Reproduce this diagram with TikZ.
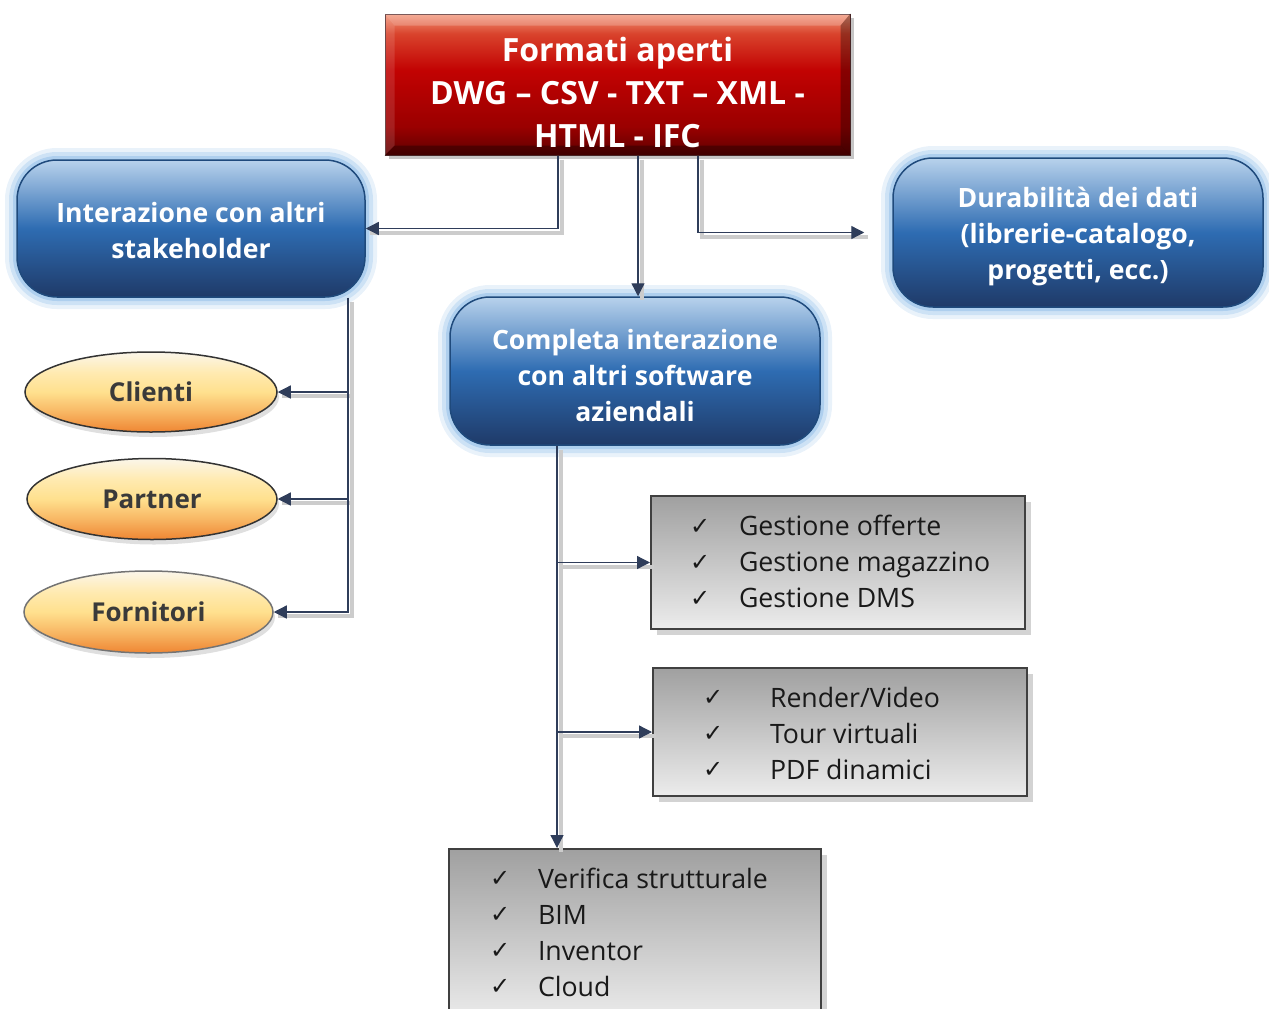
\documentclass[tikz,border=0pt]{standalone}
\usepackage{fontspec}
\setmainfont{Open Sans}
\newfontfamily\dejavu{DejaVu Sans}
\usetikzlibrary{arrows.meta,shadows,shapes.geometric}
\definecolor{blueD}{HTML}{1F3A68}
\definecolor{blueM}{HTML}{2E6CB2}
\definecolor{blueL}{HTML}{B8D2EC}
\definecolor{blueB}{HTML}{1F4A7C}
\definecolor{glowc}{HTML}{8FBDE8}
\definecolor{redA}{HTML}{5E0000}
\definecolor{redB}{HTML}{9A0000}
\definecolor{redC}{HTML}{C20202}
\definecolor{redD}{HTML}{D9432C}
\definecolor{redE}{HTML}{F2987C}
\definecolor{redB2}{HTML}{5A3030}
\definecolor{orA}{HTML}{EF8633}
\definecolor{orB}{HTML}{F8B865}
\definecolor{orC}{HTML}{FFE08E}
\definecolor{orD}{HTML}{FFEAB0}
\definecolor{orE}{HTML}{FBF6EA}
\definecolor{grA}{HTML}{ECECEC}
\definecolor{grB}{HTML}{A0A0A0}
\definecolor{connc}{HTML}{2F3D5A}
\definecolor{elltext}{HTML}{3A3A3A}
\pgfdeclareverticalshading{bluesh}{100bp}{color(0bp)=(blueD); color(25bp)=(blueD); color(50bp)=(blueM); color(75bp)=(blueL); color(100bp)=(blueL)}
\pgfdeclareverticalshading{redsh}{100bp}{color(0bp)=(redA); color(25bp)=(redA); color(35bp)=(redB); color(55bp)=(redC); color(68bp)=(redD); color(75bp)=(redE); color(100bp)=(redE)}
\pgfdeclareverticalshading{orsh}{100bp}{color(0bp)=(orA); color(25bp)=(orA); color(38bp)=(orB); color(50bp)=(orC); color(62bp)=(orD); color(75bp)=(orE); color(100bp)=(orE)}
\pgfdeclareverticalshading{grsh}{100bp}{color(0bp)=(grA); color(25bp)=(grA); color(75bp)=(grB); color(100bp)=(grB)}
\newcommand{\ck}{\raisebox{1.5pt}{\dejavu\fontsize{24}{24}\selectfont ✓}}
\newcommand{\glist}[5]{\raisebox{0pt}[\dimexpr\height+#5\relax]{\makebox[#1][l]{\hspace*{#2}\begin{tabular}{@{}p{#3}@{}l@{}}#4\end{tabular}}}}
\begin{document}
\begin{tikzpicture}[x=1pt,y=-1pt,
  redbox/.style={rectangle, draw=redB2, line width=1pt, shading=redsh,
    minimum width=465pt, minimum height=141pt, inner sep=0pt,
    drop shadow={shadow xshift=4pt, shadow yshift=-4pt, opacity=0.45}},
  redtxt/.style={text=white, align=center, font=\fontsize{32}{43}\selectfont\bfseries},
  bluebox/.style={rectangle, rounded corners=40pt, draw=blueB, line width=1.5pt, shading=bluesh,
    inner sep=0pt,
    preaction={draw=glowc, line width=24pt, opacity=0.2},
    preaction={draw=glowc, line width=16pt, opacity=0.3},
    preaction={draw=glowc, line width=8pt, opacity=0.5}},
  bluetxt/.style={text=white, align=center, font=\fontsize{26.6}{36}\selectfont\bfseries},
  ellbox/.style={ellipse, draw=black!80, line width=1.5pt, shading=orsh, inner sep=0pt,
    text=elltext, font=\fontsize{26}{30}\selectfont\bfseries,
    drop shadow={shadow xshift=2pt, shadow yshift=-5pt, opacity=0.25}},
  greybox/.style={rectangle, draw=black!75, line width=2pt, shading=grsh, anchor=north west,
    inner xsep=0pt, font=\fontsize{26.7}{36}\selectfont, text=black!90,
    drop shadow={shadow xshift=6pt, shadow yshift=-6pt, opacity=0.35}},
  conn/.style={draw=connc, line width=1.3pt, -{Triangle[length=13pt, width=13pt]}},
  connshadow/.style={draw=black!20, line width=4pt},
  bevel/.style={draw=none},
]
\useasboundingbox (0,0) rectangle (1269,1009);
\clip (0,0) rectangle (1269,1009);

% red box with bevel
\node[redbox] (red) at (617.5,84.5) {};
\fill[bevel, white, opacity=0.2] (red.north west) -- (red.north east) -- ([shift={(-10,12)}]red.north east) -- ([shift={(10,12)}]red.north west) -- cycle;
\fill[bevel, white, opacity=0.12] (red.north west) -- ([shift={(10,12)}]red.north west) -- ([shift={(10,-10)}]red.south west) -- (red.south west) -- cycle;
\fill[bevel, black, opacity=0.3] (red.north east) -- ([shift={(-10,12)}]red.north east) -- ([shift={(-10,-10)}]red.south east) -- (red.south east) -- cycle;
\fill[bevel, black, opacity=0.3] (red.south west) -- ([shift={(10,-10)}]red.south west) -- ([shift={(-10,-10)}]red.south east) -- (red.south east) -- cycle;
\node[redtxt] (redt) at (617.5,92) {Formati aperti\\DWG – CSV - TXT – XML -\\HTML - IFC};

% blue boxes
\node[bluebox, minimum width=348pt, minimum height=137pt] (stake) at (191,228.5) {};
\node[bluetxt] (staket) at (191,230.5) {Interazione con altri\\stakeholder};
\node[bluebox, minimum width=370pt, minimum height=149pt] (dur) at (1078,232.5) {};
\node[bluetxt] (durt) at (1078,237) {Durabilità dei dati\\(librerie-catalogo,\\progetti, ecc.)};
\node[bluebox, minimum width=370pt, minimum height=148pt] (soft) at (635,371) {};
\node[bluetxt] (softt) at (635,375.5) {Completa interazione\\con altri software\\aziendali};

% ellipses
\node[ellbox, minimum width=252pt, minimum height=80pt] (cli) at (151,392) {Clienti};
\node[ellbox, minimum width=250pt, minimum height=81pt] (part) at (152,499) {Partner};
\node[ellbox, draw=black!55, minimum width=249pt, minimum height=82pt] (forn) at (148.5,612) {Fornitori};

% grey boxes
\node[greybox, minimum width=374pt, minimum height=133pt] (g1) at (650,495)
  {\glist{374pt}{39pt}{49pt}{\ck & Gestione offerte\\ \ck & Gestione magazzino\\ \ck & Gestione DMS}{4pt}};
\node[greybox, minimum width=374pt, minimum height=128pt] (g2) at (652,667)
  {\glist{374pt}{50pt}{67pt}{\ck & Render/Video\\ \ck & Tour virtuali\\ \ck & PDF dinamici}{8pt}};
\node[greybox, minimum width=372pt, minimum height=172pt] (g3) at (448,848)
  {\glist{372pt}{41pt}{48pt}{\ck & Verifica strutturale\\ \ck & BIM\\ \ck & Inventor\\ \ck & Cloud}{0pt}};

% connector x positions
\coordinate (xa) at (558,0);
\coordinate (xb) at (638,0);
\coordinate (xc) at (698,0);
\coordinate (xd) at (348,0);
\coordinate (xe) at (557,0);

% connector shadows
\begin{scope}[transform canvas={shift={(4pt,-4pt)}}]
\draw[connshadow] (red.south -| xa) |- (stake.east);
\draw[connshadow] (red.south -| xb) -- (soft.north -| xb);
\draw[connshadow, shorten >=28pt] (red.south -| xc) |- (dur.west);
\draw[connshadow] (stake.south -| xd) |- (forn.east);
\draw[connshadow] (stake.south -| xd) |- (cli.east);
\draw[connshadow] (stake.south -| xd) |- (part.east);
\draw[connshadow] (soft.south -| xe) -- (g3.north -| xe);
\draw[connshadow] (soft.south -| xe) |- (g1.west);
\draw[connshadow] (soft.south -| xe) |- (g2.west);
\end{scope}

% connectors
\draw[conn] (red.south -| xa) |- (stake.east);
\draw[conn] (red.south -| xb) -- (soft.north -| xb);
\draw[conn, shorten >=28pt] (red.south -| xc) |- (dur.west);
\draw[conn] (stake.south -| xd) |- (cli.east);
\draw[conn] (stake.south -| xd) |- (part.east);
\draw[conn] (stake.south -| xd) |- (forn.east);
\draw[conn] (soft.south -| xe) |- (g1.west);
\draw[conn] (soft.south -| xe) |- (g2.west);
\draw[conn] (soft.south -| xe) -- (g3.north -| xe);
\end{tikzpicture}
\end{document}
